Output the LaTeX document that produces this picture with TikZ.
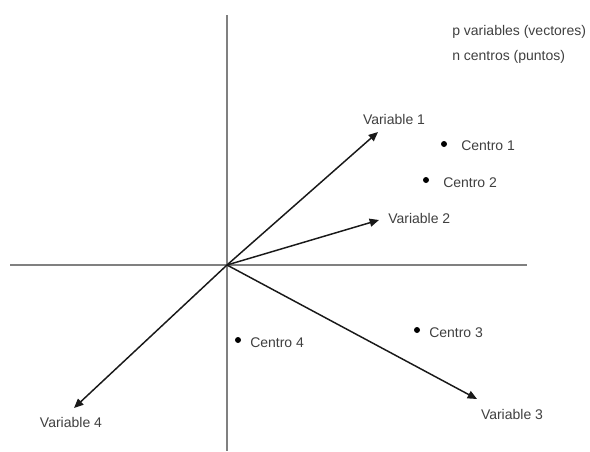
\documentclass[tikz,border=0pt]{standalone}
\usepackage{fontspec}
\setmainfont{Liberation Sans}
\usetikzlibrary{arrows.meta}
\begin{document}
\begin{tikzpicture}[x=0.75pt,y=-0.75pt,
  axis/.style={draw=black!50,line width=1pt},
  vec/.style={draw=black!90,line width=1.1pt,-{Triangle[length=7pt,width=6pt]}},
  lbl/.style={text=black!75,font=\fontsize{10.5pt}{12pt}\selectfont,inner sep=0pt},
  dot/.style={circle,fill=black,inner sep=0pt,minimum size=4.5pt}]
\useasboundingbox (0,0) rectangle (590,451);
\fill[white] (0,0) rectangle (590,451);
% axes
\coordinate (ytop) at (227,15);
\coordinate (ybot) at (227,451);
\coordinate (xl) at (10,265);
\coordinate (xr) at (527,265);
\draw[axis] (ytop) -- (ybot);
\draw[axis] (xl) -- (xr);
\coordinate (o) at (227,265);
% vectors
\coordinate (v1) at (378,132);
\coordinate (v2) at (379,220);
\coordinate (v3) at (477,399);
\coordinate (v4) at (74,408);
\draw[vec] (o) -- (v1);
\draw[vec] (o) -- (v2);
\draw[vec] (o) -- (v3);
\draw[vec] (o) -- (v4);
\node[lbl] (l1) at (394,119) {Variable 1};
\node[lbl,anchor=west] (l2) at (388,218) {Variable 2};
\node[lbl] (l3) at (512,414) {Variable 3};
\node[lbl] (l4) at (71,422) {Variable 4};
% centres
\node[dot] (c1) at (444,144) {};
\node[dot] (c2) at (426,180) {};
\node[dot] (c3) at (417,330) {};
\node[dot] (c4) at (238,340) {};
\node[lbl,anchor=west] (t1) at (461,146) {Centro 1};
\node[lbl,anchor=west] (t2) at (443,183) {Centro 2};
\node[lbl,anchor=west] (t3) at (429,333) {Centro 3};
\node[lbl,anchor=west] (t4) at (250,343) {Centro 4};
% legend
\node[lbl,anchor=west] (p) at (452,32) {p variables (vectores)};
\node[lbl,anchor=west] (n) at (452,57) {n centros (puntos)};
\end{tikzpicture}
\end{document}
